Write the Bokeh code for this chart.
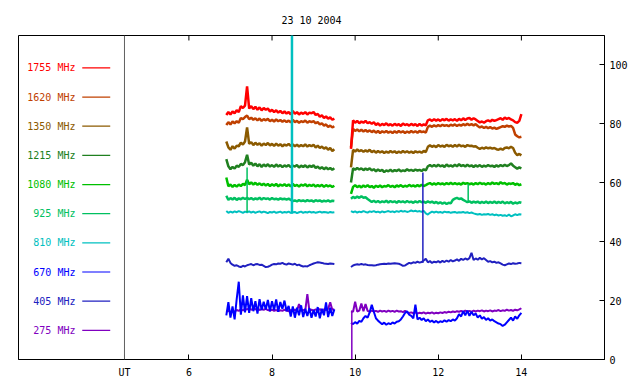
import numpy as np
from bokeh.plotting import figure
from bokeh.models import Range1d, FixedTicker, Span
from bokeh.core.properties import value
from bokeh.embed import file_html
from bokeh.resources import INLINE

# ---------------- data ----------------
title_text = "23 10 2004"
freq_labels = ["1755 MHz", "1620 MHz", "1350 MHz", "1215 MHz", "1080 MHz",
               "925 MHz", "810 MHz", "670 MHz", "405 MHz", "275 MHz"]
freq_colors = ["#ff0000", "#c04000", "#8b5a00", "#208020", "#00c000",
               "#00c060", "#00c0c0", "#0000ff", "#2020c0", "#8000c0"]
x_ticks = [6, 8, 10, 12, 14]
y_ticks = [0, 20, 40, 60, 80, 100]
ut_label = "UT"
ut_pos = 4.45

# time grids (UT hours) of the two observing segments
t_seg1 = np.round(np.arange(6.90, 9.5001, 0.05), 2)
t_seg2 = np.round(np.arange(9.90, 14.0001, 0.05), 2)

# 1755 MHz
s1755_a = [83.0, 84.0, 83.2, 84.2, 83.6, 84.6, 84.0, 86.0, 85.4, 86.2,
           92.7, 85.2, 86.0, 85.0, 85.8, 84.8, 85.6, 84.6, 85.4, 84.8,
           85.2, 84.2, 84.8, 84.0, 84.6, 83.8, 84.4, 83.6, 84.2, 83.5,
           84.0, 83.2, 84.4, 83.4, 84.0, 83.2, 83.8, 83.4, 84.0, 83.2,
           83.8, 83.6, 84.0, 83.0, 83.4, 82.4, 82.9, 82.0, 82.5, 81.8,
           82.2, 81.4, 81.8]
s1755_b = [71.5, 81.2, 80.4, 81.0, 80.2, 80.8, 80.4, 81.0, 80.2, 80.6,
           80.0, 80.6, 79.6, 80.2, 79.4, 80.0, 79.6, 80.2, 79.5, 79.9,
           79.4, 80.0, 79.5, 79.9, 79.3, 80.1, 79.6, 79.9, 79.4, 80.0,
           79.5, 79.9, 79.3, 80.0, 79.4, 79.8, 79.5, 81.2, 81.5, 81.0,
           81.6, 81.1, 81.5, 81.0, 81.6, 81.2, 81.7, 81.1, 81.5, 81.2,
           81.6, 81.0, 81.7, 81.2, 81.9, 81.3, 81.8, 82.0, 81.4, 81.9,
           81.5, 81.0, 80.5, 80.8, 80.4, 80.9, 81.2, 80.8, 81.4, 81.0,
           81.3, 81.6, 81.9, 81.4, 82.1, 81.7, 82.0, 81.5, 81.2, 80.6,
           80.4, 81.0, 83.3]
# 1620 MHz
s1620_a = [79.6, 80.6, 79.8, 80.8, 80.2, 80.9, 80.4, 82.0, 81.6, 82.3,
           82.8, 81.6, 82.1, 81.4, 81.9, 81.2, 81.8, 81.0, 81.6, 81.2,
           81.7, 80.9, 81.4, 80.8, 81.5, 80.9, 81.3, 80.7, 81.2, 80.6,
           81.1, 80.5, 81.4, 80.6, 81.0, 80.4, 80.9, 80.6, 81.1, 80.4,
           80.9, 80.6, 80.9, 80.2, 80.6, 79.8, 80.2, 79.4, 79.8, 79.0,
           79.4, 78.8, 79.2]
s1620_b = [72.0, 78.3, 77.6, 78.1, 77.5, 78.0, 77.4, 77.9, 77.3, 77.8,
           77.2, 77.7, 77.0, 77.6, 76.9, 77.5, 77.1, 77.6, 77.0, 77.4,
           76.9, 77.5, 77.0, 77.6, 77.1, 77.5, 76.9, 77.4, 77.0, 77.6,
           77.1, 77.5, 77.0, 77.6, 77.2, 77.4, 77.0, 79.0, 79.4, 79.0,
           79.5, 79.1, 79.6, 79.2, 79.7, 79.3, 79.6, 79.2, 79.7, 79.4,
           79.8, 79.3, 79.7, 79.4, 79.9, 79.5, 80.0, 79.6, 79.9, 79.5,
           79.9, 79.3, 78.8, 79.1, 78.6, 79.0, 78.5, 78.9, 78.4, 78.7,
           78.3, 78.6, 78.9, 79.2, 79.0, 79.4, 79.1, 79.3, 78.6, 76.4,
           75.8, 75.4, 75.6]
# 1350 MHz
s1350_a = [74.0, 72.0, 71.2, 72.4, 71.6, 72.6, 72.4, 73.6, 73.0, 74.0,
           78.8, 73.2, 73.8, 72.8, 73.6, 72.9, 73.4, 72.6, 73.3, 72.8,
           73.5, 72.7, 73.2, 72.5, 73.3, 72.6, 73.1, 72.4, 73.0, 72.6,
           73.2, 72.5, 73.0, 72.4, 72.9, 72.3, 72.8, 72.4, 73.0, 72.3,
           72.8, 72.4, 72.9, 72.0, 72.6, 71.8, 72.3, 71.6, 72.0, 71.2,
           71.8, 70.8, 71.4]
s1350_b = [65.2, 71.2, 70.6, 71.3, 70.7, 71.1, 70.5, 71.0, 70.6, 71.2,
           70.4, 70.9, 70.2, 70.8, 70.3, 70.7, 70.1, 70.6, 70.2, 70.8,
           70.3, 70.7, 70.1, 70.6, 70.2, 70.8, 70.3, 70.7, 70.2, 70.6,
           70.1, 70.7, 70.3, 70.6, 70.2, 70.8, 70.4, 72.2, 72.7, 72.2,
           72.6, 72.1, 72.8, 72.3, 72.6, 72.2, 72.9, 72.4, 72.7, 72.2,
           72.8, 72.3, 72.9, 72.4, 72.6, 72.2, 72.8, 72.5, 72.6, 72.3,
           72.4, 71.9, 71.5, 71.9, 71.6, 72.0, 71.7, 71.9, 71.6, 71.8,
           71.4, 71.2, 71.6, 71.2, 71.8, 72.0, 71.7, 72.2, 71.8, 70.2,
           69.4, 69.8, 69.3]
# 1215 MHz
s1215_a = [68.0, 65.6, 64.6, 65.4, 64.8, 65.8, 65.4, 66.4, 66.0, 67.0,
           69.5, 66.2, 66.8, 65.8, 66.5, 65.6, 66.3, 65.4, 66.2, 65.6,
           66.3, 65.5, 66.0, 65.4, 66.2, 65.5, 66.0, 65.3, 65.9, 65.5,
           66.0, 65.3, 65.8, 65.5, 66.0, 65.2, 65.8, 65.4, 65.9, 65.2,
           65.8, 65.4, 65.9, 65.0, 65.5, 64.8, 65.3, 64.6, 65.2, 64.6,
           65.0, 64.4, 64.9]
s1215_b = [60.1, 64.9, 64.4, 65.0, 64.5, 64.9, 64.3, 64.8, 64.4, 64.9,
           64.2, 64.6, 63.9, 64.5, 64.0, 64.4, 63.6, 64.2, 63.9, 64.4,
           63.8, 64.3, 64.0, 64.5, 63.9, 64.2, 64.0, 64.6, 64.1, 64.4,
           64.0, 64.5, 64.1, 64.4, 64.0, 64.6, 64.2, 65.6, 66.0, 65.5,
           66.0, 65.5, 66.1, 65.6, 65.9, 65.4, 66.2, 65.6, 65.9, 65.5,
           66.1, 65.6, 66.3, 65.7, 66.0, 65.5, 66.1, 65.6, 65.9, 65.4,
           65.9, 65.5, 66.0, 65.4, 65.8, 65.5, 66.0, 65.6, 65.8, 65.4,
           65.9, 65.5, 66.0, 65.6, 66.1, 65.7, 66.0, 66.6, 65.8, 65.3,
           64.8, 65.2, 64.9]
# 1080 MHz
s1080_a = [61.8, 58.8, 59.4, 58.6, 59.3, 58.7, 59.4, 58.9, 59.6, 59.2,
           61.0, 59.5, 60.1, 59.4, 60.0, 59.3, 59.8, 59.2, 59.7, 59.1,
           59.6, 58.9, 59.5, 59.0, 59.6, 58.8, 59.4, 59.0, 59.5, 58.9,
           59.4, 58.8, 59.6, 58.9, 59.3, 58.7, 59.4, 59.0, 59.5, 58.8,
           59.3, 58.9, 59.4, 58.7, 59.2, 58.8, 59.3, 58.6, 59.2, 58.8,
           59.1, 58.6, 59.0]
s1080_b = [56.2, 58.6, 59.2, 58.5, 59.0, 58.4, 59.1, 58.6, 59.2, 58.5,
           58.9, 58.3, 59.0, 58.6, 59.1, 58.5, 58.9, 58.7, 59.2, 58.6,
           59.0, 58.5, 59.1, 58.7, 59.2, 58.6, 59.0, 58.7, 59.3, 58.8,
           59.1, 58.7, 59.2, 58.8, 59.3, 58.9, 59.2, 59.6, 59.9, 59.4,
           59.8, 59.4, 59.9, 59.5, 59.8, 59.4, 59.9, 59.5, 60.0, 59.5,
           59.9, 59.5, 59.8, 59.4, 60.0, 59.6, 59.9, 59.5, 59.8, 59.4,
           59.9, 59.5, 60.0, 59.6, 59.8, 59.4, 59.9, 59.5, 60.1, 59.6,
           59.9, 59.5, 60.2, 59.7, 59.9, 59.4, 59.8, 59.6, 59.9, 59.3,
           59.7, 59.2, 59.5]
# 925 MHz
s925_a = [55.6, 54.2, 54.8, 54.3, 54.9, 54.2, 54.7, 54.4, 54.9, 54.5,
          54.9, 54.4, 54.8, 54.3, 54.7, 54.4, 54.9, 54.3, 54.8, 54.5,
          54.7, 54.3, 54.8, 54.4, 54.6, 54.3, 54.7, 54.4, 54.6, 54.3,
          54.6, 54.2, 53.8, 54.0, 53.7, 54.1, 53.8, 54.0, 53.7, 54.1,
          53.8, 54.0, 53.6, 54.1, 53.8, 54.0, 53.6, 53.9, 53.7, 54.0,
          53.6, 53.9, 53.8]
s925_b = [54.6, 55.2, 54.8, 55.3, 54.9, 55.4, 54.9, 55.1, 54.5, 54.0,
          53.5, 53.9, 53.4, 53.8, 53.3, 53.7, 53.4, 53.9, 53.3, 53.8,
          53.4, 53.7, 53.2, 53.8, 53.4, 53.7, 53.3, 53.8, 53.4, 53.6,
          53.2, 53.7, 53.3, 53.8, 53.4, 53.6, 53.2, 53.7, 53.3, 53.6,
          53.1, 53.5, 53.0, 53.4, 52.9, 53.3, 52.8, 53.2, 53.0, 54.2,
          54.6, 54.9, 54.5, 54.7, 54.2, 53.8, 53.4, 53.7, 53.2, 53.6,
          53.3, 53.6, 53.1, 53.5, 53.2, 53.6, 53.1, 53.5, 53.2, 53.6,
          53.1, 53.5, 53.2, 53.6, 53.0, 53.4, 53.1, 53.5, 52.9, 53.3,
          53.0, 53.4, 53.2]
# 810 MHz
s810_a = [50.4, 49.8, 50.2, 49.9, 50.3, 50.0, 50.4, 50.1, 49.8, 50.2,
          50.0, 50.3, 49.9, 50.2, 49.8, 50.1, 50.3, 49.9, 50.2, 50.0,
          49.7, 50.1, 49.9, 50.2, 49.8, 50.0, 50.2, 49.8, 50.1, 49.9,
          50.2, 49.8, 50.0, 50.1, 49.7, 50.0, 50.2, 49.8, 50.1, 49.9,
          50.2, 49.9, 50.1, 49.8, 50.0, 50.2, 49.9, 50.1, 50.0, 49.8,
          50.1, 49.9, 50.0]
s810_b = [50.4, 50.0, 50.3, 49.9, 50.2, 50.0, 50.4, 50.1, 49.9, 50.3,
          50.1, 50.4, 50.0, 50.2, 49.9, 50.3, 50.0, 50.2, 50.4, 50.1,
          50.3, 50.0, 50.4, 50.1, 50.5, 50.2, 50.4, 50.1, 50.3, 50.6,
          50.3, 50.5, 50.2, 50.4, 50.1, 50.5, 49.6, 49.2, 49.8, 50.2,
          49.9, 50.2, 49.9, 50.1, 49.8, 50.2, 50.0, 50.1, 49.8, 50.0,
          50.1, 49.8, 50.0, 49.9, 50.1, 49.8, 50.0, 49.7, 49.9, 49.6,
          49.4, 49.2, 49.4, 49.1, 49.3, 49.2, 49.4, 49.1, 49.3, 49.0,
          49.2, 48.9, 49.1, 48.8, 49.0, 48.7, 49.2, 48.6, 48.9, 49.3,
          49.0, 49.3, 49.2]
# 670 MHz
s670_a = [15.0, 19.5, 14.2, 18.0, 13.6, 20.5, 26.4, 15.2, 21.8, 16.0,
          21.5, 15.8, 20.8, 16.4, 19.8, 15.6, 20.5, 16.8, 19.6, 17.0,
          20.2, 16.4, 19.8, 16.8, 20.4, 16.2, 19.5, 17.2, 20.0, 16.4,
          18.2, 14.6, 18.0, 14.2, 17.6, 15.0, 18.4, 14.4, 17.2, 14.8,
          17.4, 14.2, 16.8, 14.6, 17.8, 14.0, 17.2, 15.0, 19.4, 14.4,
          17.6, 14.8, 17.0]
s670_b = [12.4, 12.0, 12.7, 12.2, 13.1, 12.8, 14.0, 14.8, 14.2, 16.0,
          18.6, 16.2, 14.0, 13.2, 12.6, 12.0, 12.5, 11.8, 12.3, 12.0,
          12.6, 12.2, 12.8, 13.0, 13.6, 14.6, 15.8, 16.4, 15.2, 14.8,
          14.0, 18.6, 13.6, 14.2, 13.4, 14.0, 13.0, 13.6, 12.8, 13.2,
          12.6, 13.1, 12.5, 13.0, 12.7, 13.3, 12.8, 13.4, 13.0, 13.6,
          13.2, 14.0, 15.4, 14.6, 16.4, 15.0, 16.6, 14.8, 16.2, 15.0,
          15.6, 14.2, 15.0, 13.8, 14.4, 13.4, 14.0, 13.2, 13.6, 13.0,
          12.6, 12.2, 12.0, 11.4, 11.8, 12.6, 13.4, 14.2, 13.2, 14.6,
          13.8, 15.0, 15.8]
# 405 MHz
s405_a = [33.0, 34.2, 32.8, 32.2, 31.8, 32.0, 31.6, 31.4, 31.8, 31.6,
          32.0, 32.2, 32.4, 32.0, 32.3, 32.4, 32.1, 32.2, 31.8, 31.4,
          31.5, 31.8, 32.2, 32.4, 32.3, 32.6, 32.5, 32.8, 32.4, 32.2,
          32.6, 32.4, 32.2, 32.5, 32.0, 32.2, 31.8, 31.6, 31.7, 31.6,
          32.0, 32.3, 32.6, 32.8, 33.0, 32.9, 32.8, 32.6, 32.5, 32.4,
          32.6, 32.5, 32.4]
s405_b = [31.4, 31.9, 32.2, 32.3, 32.2, 32.4, 32.2, 32.3, 32.1, 32.0,
          32.0, 31.9, 32.0, 32.2, 32.3, 32.4, 32.5, 32.4, 32.6, 32.5,
          32.6, 32.7, 32.6, 32.5, 32.2, 31.8, 31.9, 32.4, 32.8, 32.6,
          33.0, 32.8, 33.2, 32.9, 33.1, 33.6, 34.2, 33.0, 33.4, 32.8,
          33.2, 33.0, 33.4, 32.9, 33.5, 33.1, 33.6, 33.2, 33.8, 33.3,
          33.6, 34.0, 33.5, 34.2, 33.8, 34.3, 33.9, 34.4, 36.2, 33.8,
          34.3, 33.9, 34.5, 34.0, 34.4, 33.8, 33.2, 33.4, 33.0, 33.2,
          32.8, 33.0, 32.6, 32.2, 32.0, 32.3, 32.6, 32.4, 32.7, 32.5,
          32.6, 32.8, 32.7]
# 275 MHz
s275_a = [16.2, 16.6, 16.0, 16.4, 16.2, 16.8, 16.5, 17.0, 16.7, 17.2,
          17.0, 17.3, 16.9, 17.2, 17.0, 17.4, 16.8, 17.1, 16.9, 17.2,
          16.8, 16.6, 16.9, 16.5, 16.8, 16.4, 16.7, 16.5, 16.9, 16.6,
          16.4, 16.8, 16.5, 16.9, 16.6, 18.8, 16.5, 16.8, 16.6, 22.2,
          16.5, 16.9, 16.6, 17.0, 16.7, 17.1, 16.6, 17.0, 16.8, 17.2,
          19.4, 16.9, 17.1]
s275_b = [16.4, 16.2, 19.6, 16.3, 16.6, 19.0, 16.4, 18.8, 16.5, 16.2,
          16.6, 16.3, 16.5, 16.2, 16.6, 16.3, 16.5, 16.2, 16.6, 16.3,
          16.5, 16.2, 16.6, 16.3, 16.4, 16.1, 16.5, 16.0, 15.8, 16.0,
          15.7, 16.0, 15.6, 15.9, 15.7, 16.0, 15.6, 15.9, 15.7, 16.0,
          15.6, 15.9, 15.7, 16.0, 15.8, 16.1, 15.9, 16.2, 16.0, 16.3,
          16.1, 16.4, 16.2, 16.5, 16.2, 16.6, 16.3, 16.5, 16.2, 16.6,
          16.3, 16.6, 16.4, 16.7, 16.3, 16.6, 16.4, 16.7, 16.3, 16.6,
          16.5, 16.8, 16.4, 16.7, 16.5, 16.9, 16.6, 16.8, 16.5, 16.9,
          16.7, 17.0, 17.4]

# isolated spikes (UT time, low value, high value, channel)
spike_t = [7.40, 8.48, 9.92, 11.63, 12.72]
spike_lo = [50.0, 49.5, 0.0, 32.8, 53.8]
spike_hi = [65.2, 115.0, 16.3, 63.5, 59.6]
spike_chan = ["925 MHz", "810 MHz", "275 MHz", "405 MHz", "925 MHz"]

series = [
    ("275 MHz", s275_a, s275_b),
    ("670 MHz", s670_a, s670_b),
    ("405 MHz", s405_a, s405_b),
    ("810 MHz", s810_a, s810_b),
    ("925 MHz", s925_a, s925_b),
    ("1080 MHz", s1080_a, s1080_b),
    ("1215 MHz", s1215_a, s1215_b),
    ("1350 MHz", s1350_a, s1350_b),
    ("1620 MHz", s1620_a, s1620_b),
    ("1755 MHz", s1755_a, s1755_b),
]
color_of = dict(zip(freq_labels, freq_colors))
for name, a, b in series:
    assert len(a) == len(t_seg1), (name, "a", len(a))
    assert len(b) == len(t_seg2), (name, "b", len(b))

# ---------------- figure ----------------
FONT = "DejaVu Sans Mono"
Y_MAX = 110.0
p = figure(width=632, height=380, x_range=Range1d(1.9, 16.0), y_range=Range1d(0, Y_MAX),
           output_backend="svg", toolbar_location=None, tools="",
           y_axis_location="right", min_border_left=18, min_border_right=28,
           min_border_top=35, min_border_bottom=21)
p.title.text = title_text
p.title.align = "center"
p.title.text_font = FONT
p.title.text_font_size = "10px"
p.title.text_font_style = "normal"
p.title.text_color = "black"
p.title.standoff = 20
p.grid.visible = False
p.outline_line_color = "black"
p.outline_line_width = 1
p.outline_line_alpha = 1
p.background_fill_color = "white"
p.border_fill_color = "white"

xb = p.xaxis[0]
xb.ticker = FixedTicker(ticks=[ut_pos] + x_ticks)
xb.major_label_overrides = {ut_pos: ut_label}
yr = p.yaxis[0]
yr.ticker = FixedTicker(ticks=y_ticks)

for ax in (xb, yr):
    ax.major_tick_in = 5
    ax.major_tick_out = 0
    ax.minor_tick_line_color = None
    ax.axis_line_color = "black"
    ax.major_tick_line_color = "black"
    ax.major_label_text_font = FONT
    ax.major_label_text_font_size = "10px"
    ax.major_label_text_color = "black"
xb.major_label_standoff = 7
yr.major_label_standoff = 5

# inward tick marks along the top edge (same positions as the bottom ticks)
top_tick_len = 5 * Y_MAX / 325.0
p.segment(x0=x_ticks, y0=[Y_MAX] * len(x_ticks), x1=x_ticks,
          y1=[Y_MAX - top_tick_len] * len(x_ticks), line_color="black", line_width=1)

p.add_layout(Span(location=ut_pos, dimension="height", line_color="#606060", line_width=1))

thick = {"1755 MHz", "1620 MHz", "1350 MHz", "1215 MHz", "1080 MHz", "925 MHz"}
for name, a, b in series:
    c = color_of[name]
    w = 2.5 if name in thick else 2
    p.line(t_seg1, a, line_color=c, line_width=w)
    p.line(t_seg2, b, line_color=c, line_width=w)

p.segment(x0=spike_t, y0=spike_lo, x1=spike_t, y1=spike_hi,
          line_color=[color_of[c] for c in spike_chan],
          line_width=[1.5, 2.5, 1.5, 1.5, 1.5])

# key on the left
n = len(freq_labels)
legend_top, legend_step = 99.0, 9.9
leg_y = [legend_top - legend_step * i for i in range(n)]
p.text(x=[3.27] * n, y=leg_y, text=freq_labels, text_color=freq_colors,
       text_align="right", text_baseline="middle",
       text_font=value(FONT), text_font_size="10px")
p.segment(x0=[3.434] * n, y0=leg_y, x1=[4.107] * n, y1=leg_y,
          line_color=freq_colors, line_width=1.2)

open("out.html", "w").write(file_html(p, INLINE))
